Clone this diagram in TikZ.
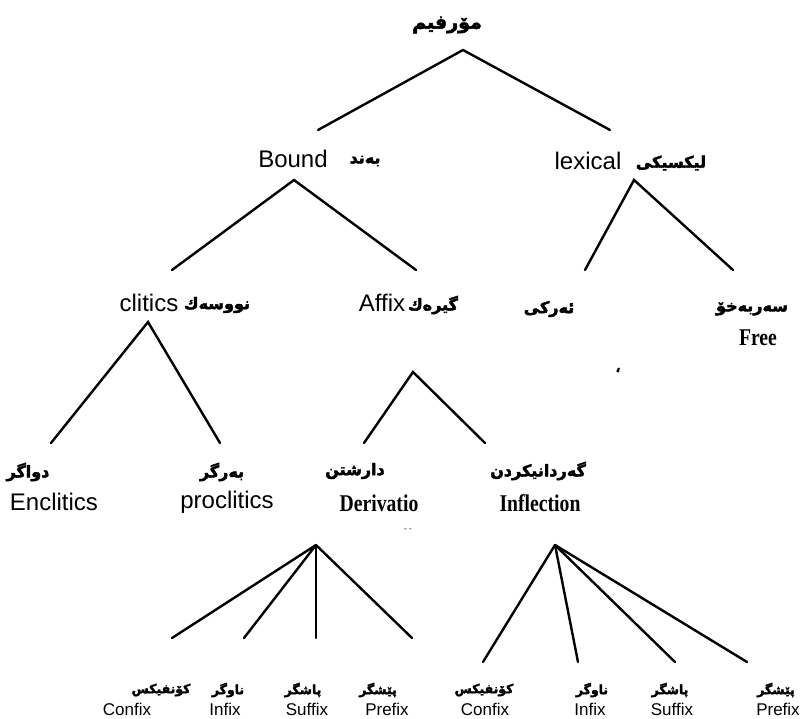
\documentclass[tikz,border=0pt]{standalone}
\usepackage{fontspec}
\setmainfont{Liberation Sans}
\newfontfamily\serifc{Liberation Serif}[FakeStretch=0.82]
\newfontfamily\kufont{DejaVu Sans}[Script=Arabic, UprightFeatures={FakeBold=2.6}, BoldFeatures={FakeBold=2.6}]
\TeXXeTstate=1
\newcommand\RL[1]{\beginR#1\endR}
\tikzset{
  every node/.style={inner sep=0pt, outer sep=0pt, text=black},
  en/.style={font=\fontsize{24}{28}\selectfont},
  ser/.style={font=\serifc\bfseries\fontsize{24}{28}\selectfont},
  sm/.style={font=\fontsize{17}{20}\selectfont},
  kuroot/.style={font=\kufont\bfseries\fontsize{19}{22}\selectfont},
  kum/.style={font=\kufont\bfseries\fontsize{16}{20}\selectfont},
  kus/.style={font=\kufont\bfseries\fontsize{12.5}{15}\selectfont},
  branch/.style={line width=2.4pt, line cap=round},
  speck/.style={font=\fontsize{8}{9}\selectfont}
}
\begin{document}
\begin{tikzpicture}[x=1pt,y=-1pt]
\useasboundingbox (0,0) rectangle (803,719);
% ---- texts
\node[kuroot] (root) at (447,25) {\RL{مۆرفیم}};
\node[en] (bound) at (293,159) {Bound};
\node[kum] (boundk) at (365,161) {\RL{بەند}};
\node[en] (lex) at (588,161) {lexical};
\node[kum] (lexk) at (671,163) {\RL{لیكسیكی}};
\node[en] (clit) at (149,303) {clitics};
\node[kum] (clitk) at (217,305) {\RL{نووسەك}};
\node[en] (affix) at (382,303) {Affix};
\node[kum] (affixk) at (433,305) {\RL{گیرەك}};
\node[kum] (erki) at (549,309) {\RL{ئەركی}};
\node[kum] (freek) at (752,309) {\RL{سەربەخۆ}};
\node[ser] (free) at (758,338) {Free};
\node[kum] (encl) at (28,472) {\RL{دواگر}};
\node[en] (encle) at (54,502) {Enclitics};
\node[kum] (procl) at (222,472) {\RL{بەرگر}};
\node[en] (proce) at (227,502) {proclitics};
\node[kum] (deriv) at (355,471) {\RL{دارشتن}};
\node[ser] (derive) at (379,503) {Derivatio};
\node[kum] (infl) at (538,471) {\RL{گەردانیكردن}};
\node[ser] (infle) at (540,503) {Inflection};
% derivation leaves
\node[kus] (dck) at (161,690) {\RL{كۆنفیكس}};
\node[sm]  (dc)  at (127,709) {Confix};
\node[kus] (dik) at (228,690) {\RL{ناوگر}};
\node[sm]  (di)  at (225,709) {Infix};
\node[kus] (dsk) at (303,690) {\RL{پاشگر}};
\node[sm]  (ds)  at (307,709) {Suffix};
\node[kus] (dpk) at (378,690) {\RL{پێشگر}};
\node[sm]  (dp)  at (387,709) {Prefix};
% inflection leaves
\node[kus] (ick) at (484,690) {\RL{كۆنفیكس}};
\node[sm]  (ic)  at (485,709) {Confix};
\node[kus] (iik) at (592,690) {\RL{ناوگر}};
\node[sm]  (ii)  at (590,709) {Infix};
\node[kus] (isk) at (670,690) {\RL{پاشگر}};
\node[sm]  (is)  at (672,709) {Suffix};
\node[kus] (ipk) at (776,690) {\RL{پێشگر}};
\node[sm]  (ip)  at (778,709) {Prefix};
% specks
\node[kus] (sp1) at (618,370) {،};
\node[speck] (sp2) at (408,530) {- -};
% ---- connector points
\coordinate (aRoot) at (463,50);
\coordinate (eBound) at (318,130);
\coordinate (eLex) at (610,130);
\coordinate (aBound) at (294,180);
\coordinate (eClit) at (172,270);
\coordinate (eAffix) at (416,270);
\coordinate (aLex) at (634,180);
\coordinate (eErki) at (585,270);
\coordinate (eFree) at (733,270);
\coordinate (aClit) at (148,322);
\coordinate (eEncl) at (51,443);
\coordinate (eProcl) at (220,443);
\coordinate (aAffix) at (413,372);
\coordinate (eDeriv) at (364,443);
\coordinate (eInfl) at (485,443);
\coordinate (aDeriv) at (316,545);
\coordinate (eDc) at (172,638);
\coordinate (eDi) at (244,638);
\coordinate (eDs) at (316,638);
\coordinate (eDp) at (412,638);
\coordinate (aInfl) at (555,545);
\coordinate (eIc) at (483,662);
\coordinate (eIi) at (578,662);
\coordinate (eIs) at (675,662);
\coordinate (eIp) at (747,662);
% ---- connectors
\draw[branch] (eBound) -- (aRoot) -- (eLex);
\draw[branch] (eClit) -- (aBound) -- (eAffix);
\draw[branch] (eErki) -- (aLex) -- (eFree);
\draw[branch] (eEncl) -- (aClit) -- (eProcl);
\draw[branch] (eDeriv) -- (aAffix) -- (eInfl);
\draw[branch] (aDeriv) -- (eDc);
\draw[branch] (aDeriv) -- (eDi);
\draw[branch] (aDeriv) -- (eDs);
\draw[branch] (aDeriv) -- (eDp);
\draw[branch] (aInfl) -- (eIc);
\draw[branch] (aInfl) -- (eIi);
\draw[branch] (aInfl) -- (eIs);
\draw[branch] (aInfl) -- (eIp);
\end{tikzpicture}
\end{document}
